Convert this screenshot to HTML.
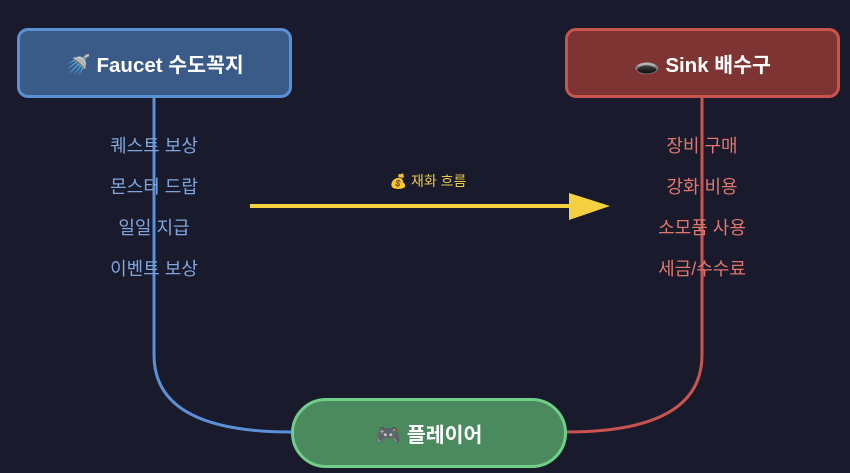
<!DOCTYPE html>
<html><head><meta charset="utf-8"><style>
body{margin:0;width:850px;height:473px;background:#191a2b;overflow:hidden;font-family:"Liberation Sans","Noto Sans CJK KR",sans-serif;}
svg{position:absolute;left:0;top:0}
.box{position:absolute;box-sizing:border-box;display:flex;align-items:center;justify-content:center;color:#fff;font-weight:bold;font-size:20.5px;}
.t{position:absolute;font-size:18px;transform:translateX(-50%);white-space:nowrap}
</style></head><body>
<svg width="850" height="473">
<path d="M154 97 V355 Q154 432 291 432" fill="none" stroke="#5b8fd6" stroke-width="3"/>
<path d="M702 97 V355 Q702 432 566 432" fill="none" stroke="#c9534f" stroke-width="3"/>
<line x1="250" y1="206" x2="575" y2="206" stroke="#f5d142" stroke-width="4"/>
<polygon points="569,193 610,206 569,220" fill="#f5d142"/>
</svg>
<div class="box" style="left:17px;top:28px;width:275px;height:70px;background:#3a5a88;border:3px solid #5b8fd6;border-radius:11px">🚿 Faucet 수도꼭지</div>
<div class="box" style="left:565px;top:28px;width:275px;height:70px;background:#7f3434;border:3px solid #c9534f;border-radius:11px">🕳️ Sink 배수구</div>
<div class="box" style="left:291px;top:398px;width:276px;height:70px;background:#4a8a5e;border:3px solid #6fcf86;border-radius:35px">🎮 플레이어</div>
<div class="t" style="left:154px;top:132px;color:#7fa5de">퀘스트 보상</div>
<div class="t" style="left:154px;top:173px;color:#7fa5de">몬스터 드랍</div>
<div class="t" style="left:154px;top:214px;color:#7fa5de">일일 지급</div>
<div class="t" style="left:154px;top:255px;color:#7fa5de">이벤트 보상</div>
<div class="t" style="left:702px;top:132px;color:#e0766e">장비 구매</div>
<div class="t" style="left:702px;top:173px;color:#e0766e">강화 비용</div>
<div class="t" style="left:702px;top:214px;color:#e0766e">소모품 사용</div>
<div class="t" style="left:702px;top:255px;color:#e0766e">세금/수수료</div>
<div class="t" style="left:428px;top:171px;color:#e8c94a;font-size:14px">💰 재화 흐름</div>
</body></html>
